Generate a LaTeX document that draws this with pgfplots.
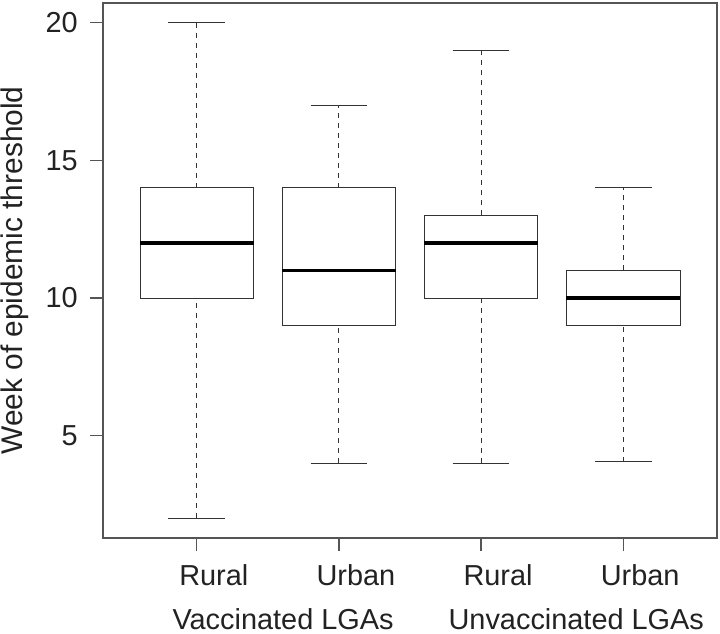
\documentclass[border=0pt]{standalone}
\usepackage{fontspec}
\setmainfont{Liberation Sans}
\usepackage{pgfplots}
\pgfplotsset{compat=1.18}
\definecolor{txt}{HTML}{222222}
\definecolor{frame}{HTML}{555555}
\definecolor{boxc}{HTML}{333333}
\newcommand{\lbl}{\fontsize{29}{34}\selectfont}
\newcommand{\ylbl}{\fontsize{30}{35}\selectfont}
\begin{document}
\begin{tikzpicture}
\begin{axis}[
  name=ax, at={(0,0)}, anchor=south west,
  scale only axis, width=614bp, height=535bp,
  xmin=0.34, xmax=4.66, ymin=1.28, ymax=20.72,
  clip=false,
  axis line style={frame, line width=1.2bp},
  tick style={frame, line width=1.2bp},
  tick align=outside, major tick length=13bp,
  xtick={1,2,3,4}, xticklabels={Rural,Urban,Rural,Urban},
  ytick={5,10,15,20},
  /pgf/number format/assume math mode=true,
  tick label style={font=\lbl, text=txt},
  xticklabel style={anchor=base, inner sep=0pt, yshift=-34bp, xshift=17bp},
  yticklabel style={anchor=east, inner sep=0pt, xshift=-12bp},
  xtick pos=bottom, ytick pos=left,
  ylabel={Week of epidemic threshold},
  every axis y label/.style={at={(axis description cs:-0.1303,0.5)}, rotate=90, anchor=base, font=\ylbl, text=txt, inner sep=0pt},
]
% boxes: Vaccinated Rural, Vaccinated Urban, Unvaccinated Rural, Unvaccinated Urban
\pgfplotsset{
  bx/.style={boxc, line width=0.9bp, mark=none},
  wh/.style={boxc, line width=0.9bp, mark=none, dash pattern=on 5bp off 5bp},
  md/.style={black, line width=3.8bp, mark=none},
}
% --- group 1: whiskers 2-20, box 10-14, median 12
\addplot[wh] coordinates {(1,14) (1,20)};
\addplot[wh] coordinates {(1,2) (1,10)};
\addplot[bx] coordinates {(0.8,20) (1.2,20)};
\addplot[bx] coordinates {(0.8,2) (1.2,2)};
\addplot[bx, fill=white] coordinates {(0.6,10) (1.4,10) (1.4,14) (0.6,14) (0.6,10)};
\addplot[md] coordinates {(0.6,12) (1.4,12)};
% --- group 2: whiskers 4-17, box 9-14, median 11
\addplot[wh] coordinates {(2,14) (2,17)};
\addplot[wh] coordinates {(2,4) (2,9)};
\addplot[bx] coordinates {(1.8,17) (2.2,17)};
\addplot[bx] coordinates {(1.8,4) (2.2,4)};
\addplot[bx, fill=white] coordinates {(1.6,9) (2.4,9) (2.4,14) (1.6,14) (1.6,9)};
\addplot[md] coordinates {(1.6,11) (2.4,11)};
% --- group 3: whiskers 4-19, box 10-13, median 12
\addplot[wh] coordinates {(3,13) (3,19)};
\addplot[wh] coordinates {(3,4) (3,10)};
\addplot[bx] coordinates {(2.8,19) (3.2,19)};
\addplot[bx] coordinates {(2.8,4) (3.2,4)};
\addplot[bx, fill=white] coordinates {(2.6,10) (3.4,10) (3.4,13) (2.6,13) (2.6,10)};
\addplot[md] coordinates {(2.6,12) (3.4,12)};
% --- group 4: whiskers 4.05-14, box 9-11, median 10
\addplot[wh] coordinates {(4,11) (4,14)};
\addplot[wh] coordinates {(4,4.05) (4,9)};
\addplot[bx] coordinates {(3.8,14) (4.2,14)};
\addplot[bx] coordinates {(3.8,4.05) (4.2,4.05)};
\addplot[bx, fill=white] coordinates {(3.6,9) (4.4,9) (4.4,11) (3.6,11) (3.6,9)};
\addplot[md] coordinates {(3.6,10) (4.4,10)};
% group labels
\node[anchor=base, font=\lbl, text=txt, inner sep=0pt] at ([yshift=-91bp]axis cs:1.607,1.28) {Vaccinated LGAs};
\node[anchor=base, font=\lbl, text=txt, inner sep=0pt] at ([yshift=-91bp]axis cs:3.670,1.28) {Unvaccinated LGAs};
\end{axis}
\pgfresetboundingbox
\path (-103bp,-96bp) rectangle (617bp,538bp);
\end{tikzpicture}
\end{document}
